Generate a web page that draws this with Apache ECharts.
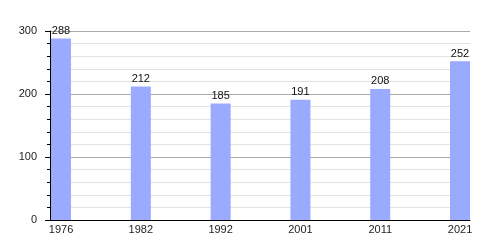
<!DOCTYPE html>
<html><head><meta charset="utf-8">
<script src="https://cdn.jsdelivr.net/npm/echarts@6/dist/echarts.min.js"></script>
<style>html,body{margin:0;padding:0;background:#fff}#c{width:500px;height:250px}</style>
</head><body><div id="c"></div>
<script>
const years = ['1976','1982','1992','2001','2011','2021'];
const population = [288, 212, 185, 191, 208, 252];
const yTicks = [0, 100, 200, 300];

const chart = echarts.init(document.getElementById('c'), null, {renderer:'canvas'});
const idx = years.map((_, i) => i);
chart.setOption({
  animation: false,
  backgroundColor: '#fff',
  grid: {left: 50, right: 30, top: 31, bottom: 30},
  xAxis: {
    type: 'value', min: -0.138, max: years.length - 1 + 0.125,
    axisLine: {show: true, onZero: false, lineStyle: {color: '#000', width: 1}},
    axisTick: {show: false},
    splitLine: {show: false},
    axisLabel: {customValues: idx, formatter: v => years[Math.round(v)], color: '#222',
      fontFamily: 'Liberation Sans, Arial, sans-serif', fontSize: 11, margin: 4}
  },
  yAxis: {
    type: 'value', min: 0, max: 300, interval: 100,
    axisLine: {show: true, onZero: false, lineStyle: {color: '#000', width: 1}},
    axisTick: {show: true, length: 5, lineStyle: {color: '#000'}},
    minorTick: {show: true, splitNumber: 5, length: 3, lineStyle: {color: '#000'}},
    splitLine: {show: true, lineStyle: {color: '#aaa', width: 1}},
    minorSplitLine: {show: true, lineStyle: {color: '#e2e2e2', width: 1}},
    axisLabel: {color: '#222', fontFamily: 'Liberation Sans, Arial, sans-serif', fontSize: 11, margin: 13,
      formatter: v => yTicks.includes(v) ? String(v) : ''}
  },
  series: [{
    type: 'bar',
    data: population.map((v, i) => [i, v]),
    barWidth: 20,
    itemStyle: {color: '#99aaff'},
    label: {show: true, position: 'top', distance: 2, color: '#111',
      fontFamily: 'Liberation Sans, Arial, sans-serif', fontSize: 11,
      formatter: p => String(p.value[1])}
  }]
});
</script></body></html>
